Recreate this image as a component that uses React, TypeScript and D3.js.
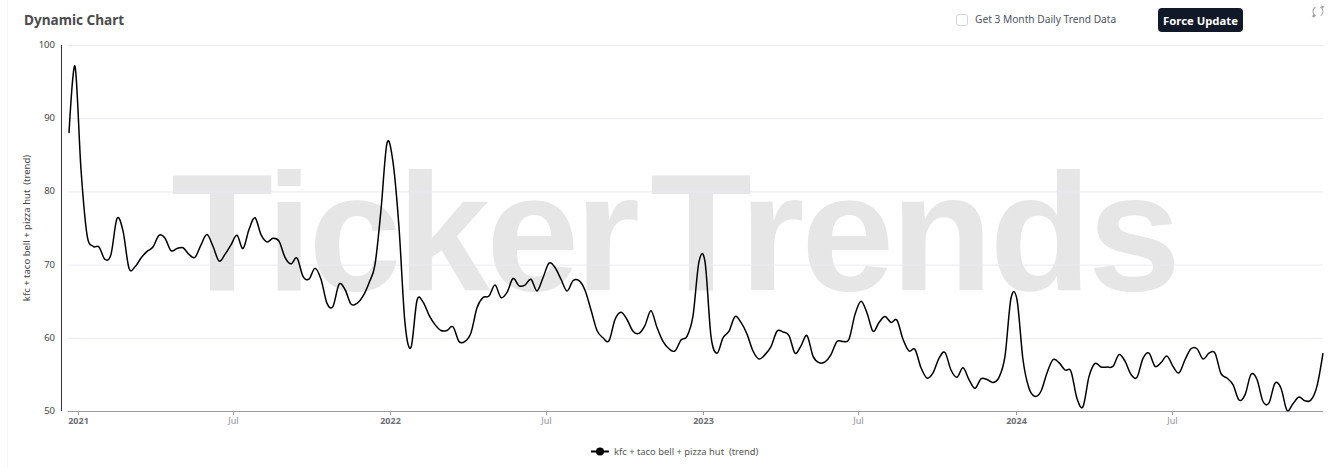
import React from "react";
import * as d3 from "d3";

const SERIES_NAME = "kfc + taco bell + pizza hut  (trend)";
const START_DATE = "2020-12-22";
const trendValues = [
  88, 97.1, 83, 74.1, 72.5, 72.4, 70.7, 71.4, 76.3, 74.6, 69.5, 69.7, 70.9, 71.8, 72.4, 74, 73.6, 71.9, 72.2, 72.3,
  71.4, 71, 72.7, 74.1, 72.5, 70.5, 71.4, 72.7, 74, 72.2, 74.8, 76.4, 74.1, 73.1, 73.6, 73.2, 71, 70.1, 70.9, 68.4,
  68, 69.5, 68, 64.7, 64.3, 67.3, 66.6, 64.6, 64.7, 65.7, 67.5, 70, 77.5, 86.6, 84, 75.1, 62, 58.7, 65.1, 64.9, 63.1,
  61.8, 61, 61, 61.5, 59.5, 59.5, 60.7, 64.1, 65.5, 65.7, 67.2, 65.5, 66.2, 68.1, 67.1, 67.2, 68, 66.4, 68.2, 70.2,
  69.6, 68, 66.4, 67.8, 67.8, 66.5, 63.8, 61, 60, 59.6, 62.5, 63.5, 62.5, 60.9, 60.6, 61.7, 63.7, 61.4, 59.5, 58.5,
  58.2, 59.7, 60.2, 63, 70.4, 70.4, 60.2, 57.9, 60, 60.9, 62.9, 62.1, 60.5, 58.2, 57.1, 57.7, 58.8, 60.9, 60.8, 60.3,
  57.9, 58.9, 60.3, 57.5, 56.6, 56.7, 57.7, 59.5, 59.5, 59.8, 63.2, 65, 63.4, 60.9, 62.1, 62.9, 62.1, 62.4, 59.8,
  58.2, 58.4, 55.9, 54.5, 55.2, 57.2, 58, 55.6, 54.6, 55.9, 54.3, 53.1, 54.4, 54.3, 53.9, 54.6, 57.5, 65.4, 65.2, 57,
  53.1, 52, 52.7, 55.2, 57, 56.6, 55.6, 55.4, 51.7, 50.6, 54.7, 56.5, 56, 56, 56.1, 57.7, 56.8, 55, 54.6, 57.2, 57.9,
  56.1, 56.6, 57.5, 56.1, 55.2, 57, 58.5, 58.5, 57.1, 57.9, 57.9, 55.1, 54.5, 53.6, 51.5, 52.2, 55, 54.3, 51.3, 51.1,
  53.8, 53.1, 50.1, 51, 51.9, 51.4, 51.5, 53.4, 57.9,
];
const yTicks = [50, 60, 70, 80, 90, 100];
const xTickDates = ["2021-01-01", "2021-07-01", "2022-01-01", "2022-07-01", "2023-01-01", "2023-07-01", "2024-01-01", "2024-07-01"];
const xTickLabels = ["2021", "Jul", "2022", "Jul", "2023", "Jul", "2024", "Jul"];

const UI = "'Noto Sans', 'Open Sans', sans-serif";
const MARK = "'Liberation Sans', Arial, sans-serif";

export default function App() {
  const t0 = new Date(START_DATE + "T00:00:00Z");
  const dates = trendValues.map((_, i) => d3.utcDay.offset(t0, i * 7));
  const x = d3.scaleUtc().domain([dates[0], dates[dates.length - 1]]).range([69, 1323]);
  const y = d3.scaleLinear().domain([50, 100]).range([411, 45]);
  const line = d3
    .line<number>()
    .x((_, i) => x(dates[i]))
    .y((d) => y(d))
    .curve(d3.curveCardinal.tension(0));
  const refreshArc1 = d3.arc()({ innerRadius: 4.6, outerRadius: 5.5, startAngle: 0.45, endAngle: 2.6 }) as string;
  const refreshArc2 = d3.arc()({ innerRadius: 4.6, outerRadius: 5.5, startAngle: 3.6, endAngle: 5.75 }) as string;

  return (
    <svg
      width={1338}
      height={468}
      style={{ position: "absolute", left: 0, top: 0, background: "#fff", display: "block" }}
    >
      <line x1={7.5} x2={7.5} y1={0} y2={468} stroke="#f7f7f7" />
      <text x={171} y={290} fontFamily={MARK} fontWeight={700} fontSize={167} fill="#e6e6e6" textLength={469} lengthAdjust="spacing">
        Ticker
      </text>
      <text x={650} y={290} fontFamily={MARK} fontWeight={700} fontSize={167} fill="#e6e6e6" textLength={531} lengthAdjust="spacing">
        Trends
      </text>

      <text x={24} y={25} fontFamily={UI} fontWeight={700} fontSize={13.6} fill="#4b4b4b">
        Dynamic Chart
      </text>

      <rect x={956.5} y={14.5} width={11} height={11} rx={2.5} fill="#fff" stroke="#d1d5db" />
      <text x={975} y={23} fontFamily={UI} fontSize={10.2} fill="#4b5563">
        Get 3 Month Daily Trend Data
      </text>
      <rect x={1158} y={8} width={85} height={24} rx={4} fill="#111827" />
      <text x={1200.5} y={25} textAnchor="middle" fontFamily={UI} fontWeight={700} fontSize={11.3} fill="#fff">
        Force Update
      </text>
      <g transform="translate(1318,11.5)" fill="#9a9a9a">
        <path d={refreshArc1} />
        <path d={refreshArc2} />
        <path d="M3.2,-6.2 L6.4,-4.8 L3.6,-2.8 Z" />
        <path d="M-3.2,6.2 L-6.4,4.8 L-3.6,2.8 Z" />
      </g>

      {yTicks.slice(1).map((t) => (
        <line key={t} x1={68} x2={1323} y1={y(t) + 0.5} y2={y(t) + 0.5} stroke="#e9eaf3" />
      ))}
      <line x1={61.5} x2={61.5} y1={45} y2={411} stroke="#333" strokeWidth={1} />
      {yTicks.map((t) => (
        <text key={t} x={55} y={y(t) + 3} textAnchor="end" fontFamily={UI} fontSize={9.5} fill="#444">
          {t}
        </text>
      ))}
      <text
        transform="translate(30,228) rotate(-90)"
        textAnchor="middle"
        fontFamily={UI}
        fontSize={9.5}
        fill="#444"
        style={{ whiteSpace: "pre" }}
      >
        {SERIES_NAME}
      </text>

      <line x1={68} x2={1323} y1={411.5} y2={411.5} stroke="#9a9aa2" />
      {xTickDates.map((d, i) => {
        const px = Math.round(x(new Date(d + "T00:00:00Z"))) + 0.5;
        const isYear = xTickLabels[i] !== "Jul";
        return (
          <g key={d}>
            <line x1={px} x2={px} y1={411} y2={415} stroke="#9a9aa2" />
            <text
              x={px}
              y={424}
              textAnchor="middle"
              fontFamily={UI}
              fontSize={9}
              fontWeight={isYear ? 700 : 400}
              fill={isYear ? "#6e7079" : "#8f9097"}
            >
              {xTickLabels[i]}
            </text>
          </g>
        );
      })}

      <path d={line(trendValues) as string} fill="none" stroke="#000" strokeWidth={1.5} strokeLinejoin="round" />

      <line x1={591} x2={609} y1={451.5} y2={451.5} stroke="#000" strokeWidth={2} />
      <circle cx={600} cy={451.5} r={4} fill="#000" />
      <text x={614} y={454.5} fontFamily={UI} fontSize={9.4} fill="#555" style={{ whiteSpace: "pre" }}>
        {SERIES_NAME}
      </text>
    </svg>
  );
}
